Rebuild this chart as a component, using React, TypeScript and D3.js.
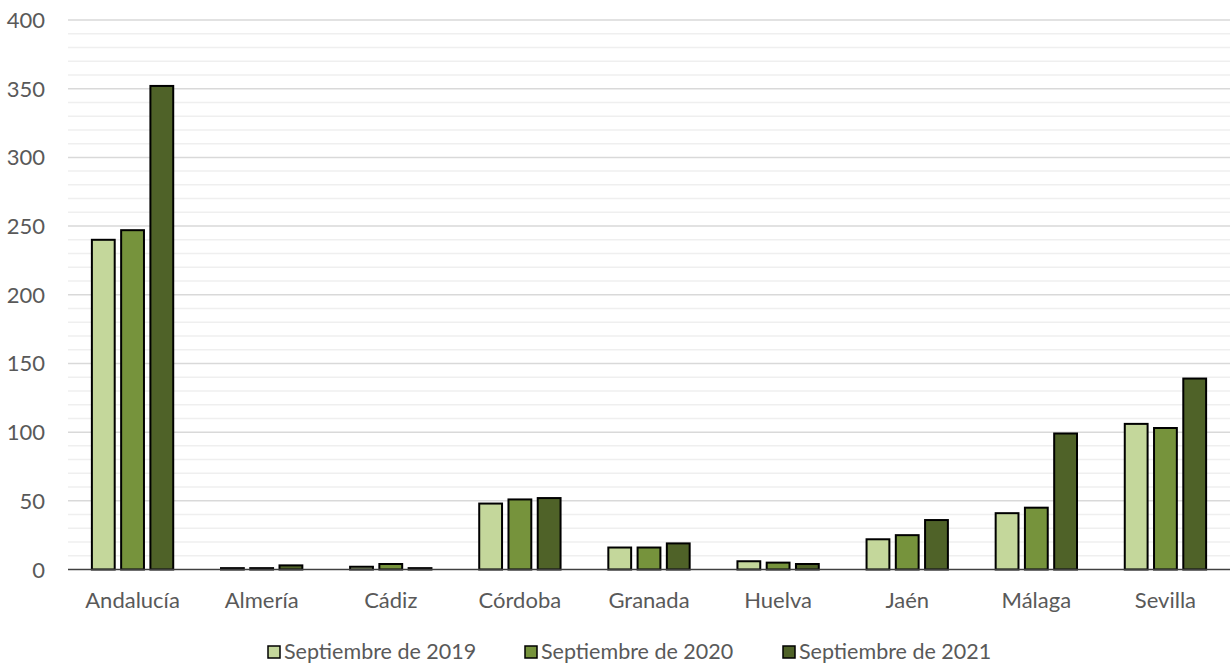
import React from "react";
import * as d3 from "d3";

const categories = ["Andalucía", "Almería", "Cádiz", "Córdoba", "Granada", "Huelva", "Jaén", "Málaga", "Sevilla"];
const seriesNames = ["Septiembre de 2019", "Septiembre de 2020", "Septiembre de 2021"];
const values2019 = [240, 1, 2, 48, 16, 6, 22, 41, 106];
const values2020 = [247, 1, 4, 51, 16, 5, 25, 45, 103];
const values2021 = [352, 3, 1, 52, 19, 4, 36, 99, 139];
const yTicks = [0, 50, 100, 150, 200, 250, 300, 350, 400];
const colors = ["#C4D79B", "#76933C", "#4F6228"];

const W = 1230, H = 666;
const left = 68, right = 1230, top = 20, bottom = 569.5;
const FONT = "Lato, 'Open Sans', sans-serif";

export default function App() {
  const series = [values2019, values2020, values2021];
  const x = d3.scaleBand<string>().domain(categories).range([left, right]).paddingInner(0.37).paddingOuter(0.185);
  const x1 = d3.scaleBand<number>().domain([0, 1, 2]).range([0, x.bandwidth()]).paddingInner(0.22);
  const y = d3.scaleLinear().domain([0, 400]).range([bottom, top]);
  const minor = d3.range(10, 400, 10).filter((v) => v % 50 !== 0);
  const legendX = [268, 525, 783];

  return (
    <svg width={W} height={H} style={{ position: "absolute", left: 0, top: 0, background: "#fff" }} fontFamily={FONT}>
      {minor.map((v) => (
        <line key={"m" + v} x1={left} x2={right} y1={y(v)} y2={y(v)} stroke="#EFEFEF" strokeWidth={1.5} />
      ))}
      {yTicks.filter((v) => v > 0).map((v) => (
        <line key={"g" + v} x1={left} x2={right} y1={y(v)} y2={y(v)} stroke="#D9D9D9" strokeWidth={1.5} />
      ))}
      {yTicks.map((v) => (
        <text key={"t" + v} x={45} y={y(v) + 8} textAnchor="end" fontSize={22} fill="#595959">{v}</text>
      ))}
      {categories.map((c, i) => (
        <g key={c} transform={`translate(${x(c)},0)`}>
          {series.map((s, j) => (
            <rect key={j} x={x1(j)} y={y(s[i])} width={x1.bandwidth()} height={bottom - y(s[i])}
              fill={colors[j]} stroke="#000" strokeWidth={2} />
          ))}
        </g>
      ))}
      <line x1={left} x2={right} y1={bottom} y2={bottom} stroke="#404040" strokeWidth={1.5} />
      {categories.map((c) => (
        <text key={"c" + c} x={(x(c) as number) + x.bandwidth() / 2} y={608} textAnchor="middle" fontSize={22} fill="#595959">{c}</text>
      ))}
      {seriesNames.map((n, j) => (
        <g key={n} transform={`translate(${legendX[j]},0)`}>
          <rect x={0} y={646} width={12} height={12} fill={colors[j]} stroke="#000" strokeWidth={1.5} />
          <text x={16} y={659} fontSize={21.5} fill="#595959">{n}</text>
        </g>
      ))}
    </svg>
  );
}
